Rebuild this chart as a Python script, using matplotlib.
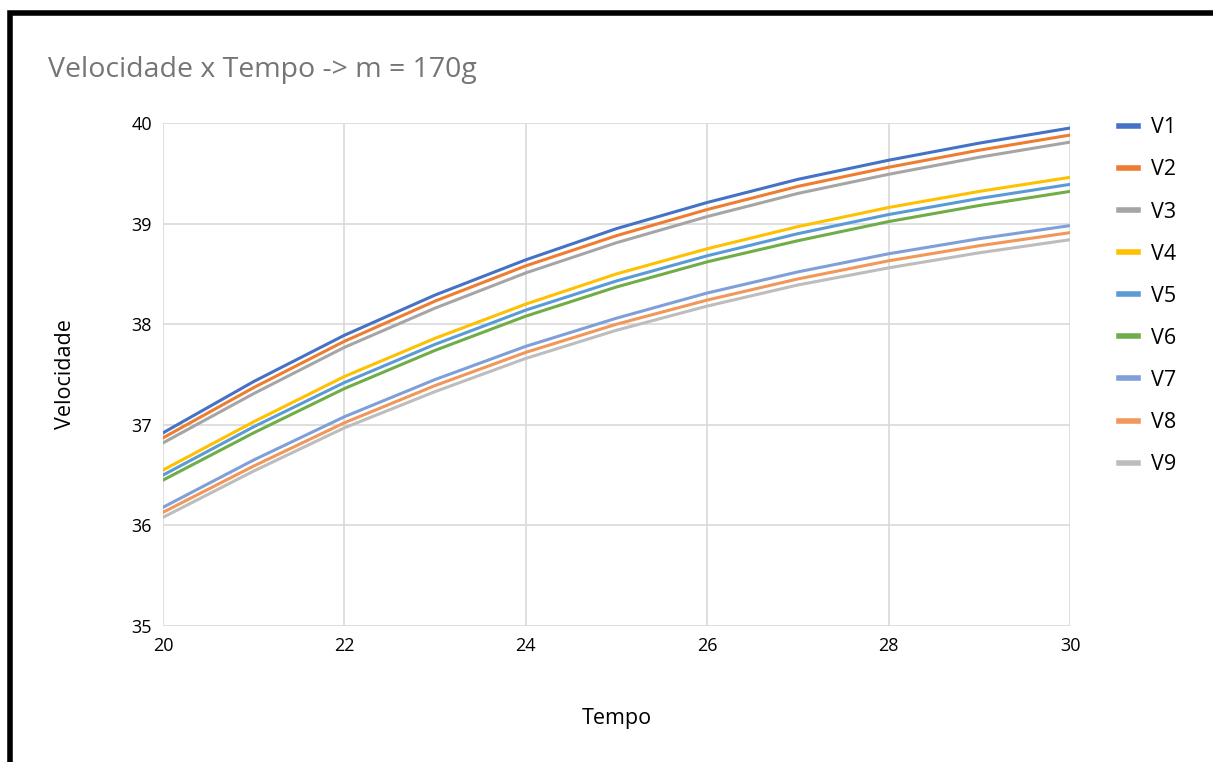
import matplotlib.pyplot as plt
from matplotlib.patches import Rectangle

# Tempo values (x) and velocity series
tempo = [20, 21, 22, 23, 24, 25, 26, 27, 28, 29, 30]

v1 = [36.92, 37.43, 37.89, 38.29, 38.64, 38.95, 39.21, 39.44, 39.63, 39.80, 39.95]
v2 = [36.87, 37.37, 37.83, 38.23, 38.58, 38.88, 39.14, 39.37, 39.56, 39.73, 39.88]
v3 = [36.82, 37.31, 37.77, 38.16, 38.51, 38.81, 39.07, 39.30, 39.49, 39.66, 39.81]
v4 = [36.55, 37.03, 37.48, 37.86, 38.20, 38.50, 38.75, 38.97, 39.16, 39.32, 39.46]
v5 = [36.50, 36.98, 37.42, 37.80, 38.14, 38.43, 38.68, 38.90, 39.09, 39.25, 39.39]
v6 = [36.45, 36.92, 37.36, 37.74, 38.08, 38.37, 38.62, 38.83, 39.02, 39.18, 39.32]
v7 = [36.18, 36.65, 37.08, 37.45, 37.78, 38.06, 38.31, 38.52, 38.70, 38.85, 38.98]
v8 = [36.13, 36.59, 37.02, 37.39, 37.72, 38.00, 38.24, 38.45, 38.63, 38.78, 38.91]
v9 = [36.08, 36.54, 36.97, 37.33, 37.66, 37.94, 38.18, 38.39, 38.56, 38.71, 38.84]

series = [v1, v2, v3, v4, v5, v6, v7, v8, v9]
labels = ["V1", "V2", "V3", "V4", "V5", "V6", "V7", "V8", "V9"]
colors = ["#4472C4", "#ED7D31", "#A5A5A5", "#FFC000", "#5B9BD5", "#70AD47",
          "#7F9FD8", "#F1975A", "#BDBDBD"]

plt.rcParams['font.family'] = ['Open Sans', 'DejaVu Sans']

fig = plt.figure(figsize=(12.13, 7.62), dpi=100)
W, H = 1213, 762
ax = fig.add_axes([163 / W, 1 - 626 / H, (1070 - 163) / W, (626 - 123) / H])

for vals, lab, col in zip(series, labels, colors):
    ax.plot(tempo, vals, color=col, linewidth=2.2, label=lab,
            solid_joinstyle='round')

ax.set_xlim(20, 30)
ax.set_ylim(35, 40)
ax.set_xticks([20, 22, 24, 26, 28, 30])
ax.set_yticks([35, 36, 37, 38, 39, 40])
ax.grid(True, color="#D9D9D9", linewidth=1.2)
ax.set_axisbelow(True)
for s in ax.spines.values():
    s.set_visible(False)
ax.tick_params(length=0, labelsize=13, colors="#000000", pad=8)

ax.set_xlabel("Tempo", fontsize=15.5, labelpad=38)
ax.set_ylabel("Velocidade", fontsize=15.5, labelpad=40)

fig.text(48 / W, 1 - 70 / H, "Velocidade x Tempo -> m = 170g", fontsize=20.5,
         color="#757575", va="center", ha="left")

fig.legend(loc="upper left", bbox_to_anchor=(1100 / W, 1 - 98 / H), frameon=False,
           fontsize=15.5, handlelength=0.85, handletextpad=0.6, labelspacing=0.98)
for line in fig.legends[0].get_lines():
    line.set_linewidth(4)

# black frame around the chart (cut off on the right and bottom)
fig.patches.append(Rectangle((10 / W, -0.05), 1.2, 1 - 13 / H + 0.05, transform=fig.transFigure,
                             fill=False, edgecolor="black", linewidth=4))

fig.savefig("out.png", dpi=100)
